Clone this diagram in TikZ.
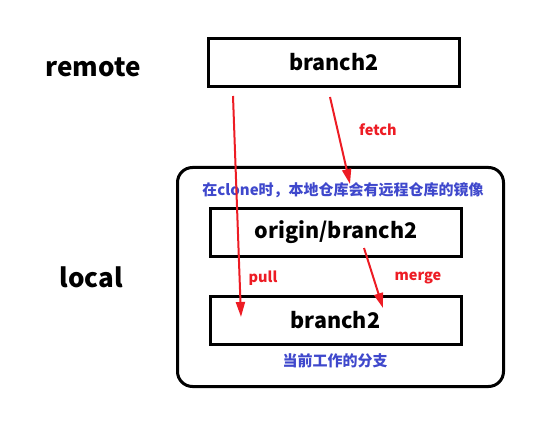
\documentclass[tikz,border=0pt]{standalone}
\usepackage{fontspec}
\newfontfamily\cjk{Noto Sans CJK SC}
\usetikzlibrary{arrows.meta,positioning,calc}
\definecolor{gitred}{RGB}{237,28,36}
\definecolor{gitblue}{RGB}{63,72,204}
\tikzset{
	branch/.style={
		rectangle,
		draw=black, line width=3pt,
		minimum width=251pt,
		minimum height=48pt,
		inner sep=0pt,
		font=\cjk\bfseries\fontsize{21.5}{25}\selectfont,
	},
	area/.style={font=\cjk\bfseries\fontsize{26}{30}\selectfont},
	gitcmd/.style={text=gitred, font=\cjk\bfseries\fontsize{14.5}{17}\selectfont},
	note/.style={text=gitblue, font=\cjk\bfseries\fontsize{15}{18}\selectfont},
	move/.style={draw=gitred, line width=2pt, -{Triangle[length=15pt,width=9pt]}},
}
\begin{document}
\begin{tikzpicture}[x=1pt,y=-1pt]
	\useasboundingbox (0,0) rectangle (549,422);

	% left hand side labels
	\node[area] (REMOTE) at (93,67) {remote};
	\node[area] (LOCAL) at (91,277) {local};

	% local repository, drawn first
	\node[rectangle, draw=black, line width=3pt, rounded corners=15pt,
	minimum width=326pt, minimum height=219pt] (REPO) at (340.5,277) {};

	% the three branches
	\node[branch] (RBRANCH) at (334,62.5) {branch2};
	\node[branch] (ORIGIN) at (336,232.5) {origin/branch2};
	\node[branch] (LBRANCH) at (335.5,320.5) {branch2};

	% notes in blue
	\node[note] (MIRROR) at (343,190) {在clone时，本地仓库会有远程仓库的镜像};
	\node[note] (WORKING) at (335,361) {当前工作的分支};

	% arrow ends
	\coordinate (PULLA) at (233,96);
	\coordinate (PULLB) at (241,317);
	\coordinate (FETCHA) at (330,97);
	\coordinate (FETCHB) at (350,184);
	\coordinate (MERGEA) at (364,248);
	\coordinate (MERGEB) at (383,308);

	\draw[move] (PULLA) -- (PULLB);
	\draw[move] (FETCHA) -- (FETCHB);
	\draw[move] (MERGEA) -- (MERGEB);

	% commands in red
	\node[gitcmd] (FETCH) at (378,130) {fetch};
	\node[gitcmd] (PULL) at (263,278) {pull};
	\node[gitcmd] (MERGE) at (418,278) {merge};

\end{tikzpicture}
\end{document}
